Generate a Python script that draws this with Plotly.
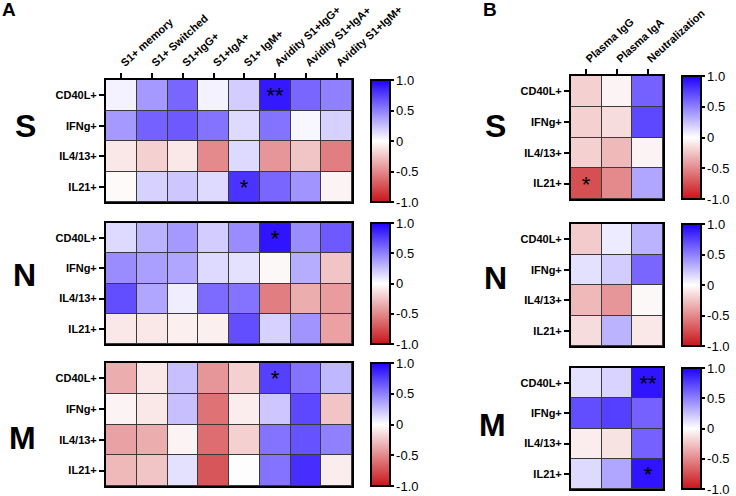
import plotly.graph_objects as go

# ---------------- data ----------------
cytokines = ["CD40L+", "IFNg+", "IL4/13+", "IL21+"]
a_columns = ["S1+ memory", "S1+ Switched", "S1+IgG+", "S1+IgA+", "S1+ IgM+",
             "Avidity S1+IgG+", "Avidity S1+IgA+", "Avidity S1+IgM+"]
b_columns = ["Plasma IgG", "Plasma IgA", "Neutralization"]

a_s_values = [[0.05, 0.40, 0.60, 0.05, 0.20, 0.90, 0.60, 0.50],
              [0.40, 0.62, 0.65, 0.55, 0.15, 0.55, 0.03, 0.18],
              [-0.10, -0.20, -0.10, -0.50, 0.15, -0.45, -0.25, -0.55],
              [-0.02, 0.18, 0.22, 0.15, 0.80, 0.60, 0.42, -0.05]]
a_s_sig = [["", "", "", "", "", "**", "", ""],
           ["", "", "", "", "", "", "", ""],
           ["", "", "", "", "", "", "", ""],
           ["", "", "", "", "*", "", "", ""]]

a_n_values = [[0.15, 0.30, 0.40, 0.20, 0.45, 0.92, 0.45, 0.65],
              [0.45, 0.38, 0.35, 0.15, 0.12, -0.03, 0.32, -0.25],
              [0.70, 0.35, 0.07, 0.58, 0.55, -0.55, -0.35, -0.42],
              [-0.10, -0.10, -0.07, -0.07, 0.70, 0.18, 0.42, -0.40]]
a_n_sig = [["", "", "", "", "", "*", "", ""],
           ["", "", "", "", "", "", "", ""],
           ["", "", "", "", "", "", "", ""],
           ["", "", "", "", "", "", "", ""]]

a_m_values = [[-0.35, -0.10, 0.25, -0.45, -0.20, 0.75, 0.55, 0.28],
              [-0.05, -0.10, 0.25, -0.60, -0.08, 0.22, 0.72, -0.25],
              [-0.40, -0.35, -0.05, -0.62, -0.20, 0.55, 0.68, 0.50],
              [-0.30, -0.25, 0.12, -0.72, -0.01, 0.55, 0.82, -0.08]]
a_m_sig = [["", "", "", "", "", "*", "", ""],
           ["", "", "", "", "", "", "", ""],
           ["", "", "", "", "", "", "", ""],
           ["", "", "", "", "", "", "", ""]]

b_s_values = [[-0.20, -0.05, 0.62],
              [-0.20, -0.15, 0.72],
              [-0.20, -0.30, -0.05],
              [-0.75, -0.50, 0.35]]
b_s_sig = [["", "", ""], ["", "", ""], ["", "", ""], ["*", "", ""]]

b_n_values = [[-0.22, 0.08, 0.30],
              [0.12, 0.20, 0.60],
              [-0.30, -0.45, -0.03],
              [-0.15, 0.30, -0.10]]
b_n_sig = [["", "", ""], ["", "", ""], ["", "", ""], ["", "", ""]]

b_m_values = [[0.12, 0.17, 0.92],
              [0.70, 0.75, 0.62],
              [-0.08, -0.12, 0.62],
              [0.15, 0.35, 0.92]]
b_m_sig = [["", "", "**"], ["", "", ""], ["", "", ""], ["", "", "*"]]

cbar_tickvals = [1.0, 0.5, 0.0, -0.5, -1.0]
cbar_ticktext = ["1.0", "0.5", "0", "-0.5", "-1.0"]

virus_labels = ["S", "N", "M"]

# ---------------- layout geometry (pixels) ----------------
W, H = 736, 496
def px(x):
    return x / W
def py(y):
    return 1 - y / H

colorscale = [[0.0, "rgb(200,20,25)"], [0.5, "rgb(255,255,255)"], [1.0, "rgb(30,0,255)"]]

panels = [
    (a_s_values, a_s_sig, a_columns, (106, 352), (80, 202), 371, True),
    (a_n_values, a_n_sig, a_columns, (106, 352), (223, 344), 371, False),
    (a_m_values, a_m_sig, a_columns, (106, 352), (363, 486), 371, False),
    (b_s_values, b_s_sig, b_columns, (571, 663), (76, 199), 682, True),
    (b_n_values, b_n_sig, b_columns, (571, 663), (224, 346), 682, False),
    (b_m_values, b_m_sig, b_columns, (571, 663), (368, 489), 682, False),
]

fig = go.Figure()
layout_axes = {}
for i, (vals, sig, cols, (x0, x1), (y0, y1), cbx, showcols) in enumerate(panels):
    n = i + 1
    xa = "x" if n == 1 else f"x{n}"
    ya = "y" if n == 1 else f"y{n}"
    fig.add_trace(go.Heatmap(
        z=vals, x=cols, y=cytokines, text=sig, texttemplate="%{text}",
        textfont=dict(size=22, color="black", family="Liberation Sans"),
        colorscale=colorscale, zmin=-1, zmax=1, xgap=1, ygap=1,
        xaxis=xa, yaxis=ya,
        colorbar=dict(
            x=px(cbx), xanchor="left", xpad=0, ypad=0,
            y=py((y0 + y1) / 2), yanchor="middle",
            lenmode="pixels", len=(y1 - y0), thickness=19,
            outlinewidth=2, outlinecolor="black",
            tickvals=cbar_tickvals, ticktext=cbar_ticktext,
            ticks="outside", ticklen=3, tickwidth=1.5, tickcolor="black",
            ticklabeloverflow="allow",
            tickfont=dict(size=13, color="black", family="Liberation Sans"),
        ),
    ))
    xkey = "xaxis" if n == 1 else f"xaxis{n}"
    ykey = "yaxis" if n == 1 else f"yaxis{n}"
    layout_axes[xkey] = dict(
        domain=[px(x0), px(x1)], anchor=ya, side="top",
        showticklabels=showcols, ticks="outside" if showcols else "",
        ticklen=5, tickwidth=1.5, tickcolor="black", tickangle=-42,
        tickfont=dict(size=11, color="black", family="Liberation Sans", weight="bold"),
        showline=True, mirror=True, linewidth=2, linecolor="black",
        showgrid=False, zeroline=False, automargin=False, fixedrange=True,
    )
    layout_axes[ykey] = dict(
        domain=[py(y1), py(y0)], anchor=xa, autorange="reversed",
        ticks="outside", ticklen=5, tickwidth=1.5, tickcolor="black",
        tickfont=dict(size=11, color="black", family="Liberation Sans", weight="bold"),
        showline=True, mirror=True, linewidth=2, linecolor="black",
        showgrid=False, zeroline=False, automargin=False, fixedrange=True,
    )

fig.update_layout(**layout_axes)

annotations = [
    dict(text="A", x=px(9), y=py(9), font=dict(size=19)),
    dict(text="B", x=px(490), y=py(9), font=dict(size=19)),
]
letter_pos_a = [(25, 126), (24, 275), (22, 438)]
letter_pos_b = [(495, 126), (495, 278), (492, 425)]
for lbl, (lx, ly) in zip(virus_labels, letter_pos_a):
    annotations.append(dict(text=lbl, x=px(lx), y=py(ly), font=dict(size=32)))
for lbl, (lx, ly) in zip(virus_labels, letter_pos_b):
    annotations.append(dict(text=lbl, x=px(lx), y=py(ly), font=dict(size=32)))

for a in annotations:
    a.update(xref="paper", yref="paper", showarrow=False, xanchor="center", yanchor="middle")
    a["font"].update(color="black", family="Liberation Sans", weight="bold")

fig.update_layout(
    annotations=annotations,
    width=W, height=H, template="none",
    margin=dict(l=0, r=0, t=0, b=0, autoexpand=False),
    paper_bgcolor="white", plot_bgcolor="#3a3a3a",
    showlegend=False,
)

fig.write_html("out.html", config={"displayModeBar": False},
               post_script="document.body.style.margin='0';document.body.style.overflow='hidden';")
